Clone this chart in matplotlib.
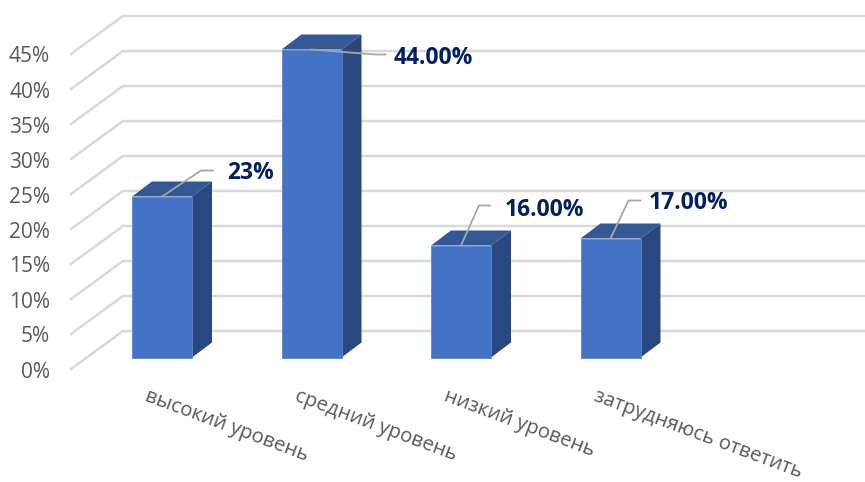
import matplotlib
matplotlib.use("Agg")
import matplotlib.pyplot as plt
from matplotlib.patches import Polygon

categories = ["высокий уровень", "средний уровень", "низкий уровень", "затрудняюсь ответить"]
values = [23, 44, 16, 17]
value_labels = ["23%", "44.00%", "16.00%", "17.00%"]
grid_ticks = [0, 5, 10, 15, 20, 25, 30, 35, 40, 45]
tick_labels = ["0%", "5%", "10%", "15%", "20%", "25%", "30%", "35%", "40%", "45%"]

W, H = 865, 482
PX_X = 149.5   # pixels per category
PX_Y = 7.0     # pixels per percent
X0 = 162.0     # pixel x of first category
Y0 = 357.5     # pixel y of 0 % in the bar plane

fig = plt.figure(figsize=(W / 100, H / 100), dpi=100, facecolor="white")
ax = fig.add_axes([0, 0, 1, 1])
ax.set_xlim(-X0 / PX_X, (W - X0) / PX_X)
ax.set_ylim((Y0 - H) / PX_Y, Y0 / PX_Y)
ax.axis("off")


def dx(p):
    return p / PX_X


def dy(p):
    return p / PX_Y


# gridlines: side wall and back wall
GRID = "#D9D9D9"
for v in grid_ticks:
    back_y = v + dy(Y0 - 331)
    front_y = v + dy(Y0 - 369)
    ax.plot([dx(71 - X0), dx(123 - X0), dx(W + 5 - X0)], [front_y, back_y, back_y],
            color=GRID, lw=1.8, solid_joinstyle="miter", zorder=1)

# 3D bars
BAR_W = 60 / PX_X
DEP_X, DEP_Y = dx(20), dy(15)
for i, v in enumerate(values):
    l, r = i - BAR_W / 2, i + BAR_W / 2
    ax.add_patch(Polygon([(r, 0), (r + DEP_X, DEP_Y), (r + DEP_X, v + DEP_Y), (r, v)],
                         closed=True, fc="#2A4880", ec="none", zorder=2))
    ax.add_patch(Polygon([(l, v), (l + DEP_X, v + DEP_Y), (r + DEP_X, v + DEP_Y), (r, v)],
                         closed=True, fc="#345795", ec="none", zorder=2))
ax.bar(range(len(values)), values, width=BAR_W, color="#4472C4", edgecolor="#5B85CF",
       linewidth=0.6, zorder=3)

# leader lines and data labels (pixel offsets from the bar's top centre)
leaders = [[(39, -26), (51, -26)], [(64, 5), (74, 5)], [(18, -40), (29, -40)], [(18, -38), (30, -38)]]
text_offsets = [(65, -24), (82, 8), (44, -36), (38, -36)]
for i, v in enumerate(values):
    xs = [i] + [i + dx(p[0]) for p in leaders[i]]
    ys = [v] + [v - dy(p[1]) for p in leaders[i]]
    ax.plot(xs, ys, color="#A6A6A6", lw=1.3, zorder=4, solid_joinstyle="round")
    ox, oy = text_offsets[i]
    ax.text(i + dx(ox), v - dy(oy), value_labels[i], color="#002060", fontsize=16.5,
            fontweight="bold", family="Open Sans", ha="left", va="center", zorder=5)

# y axis labels
for v, lab in zip(grid_ticks, tick_labels):
    ax.text(dx(50 - X0), v + dy(Y0 - 372), lab, color="#595959", fontsize=15,
            family="Open Sans", ha="right", va="center")

# category labels
for i, lab in enumerate(categories):
    ax.text(i + dx(-16), dy(Y0 - 396), lab, color="#595959", fontsize=14.6,
            family="Open Sans", rotation=-20.5, rotation_mode="anchor", ha="left", va="center")

fig.savefig("out.png", dpi=100, facecolor="white")
